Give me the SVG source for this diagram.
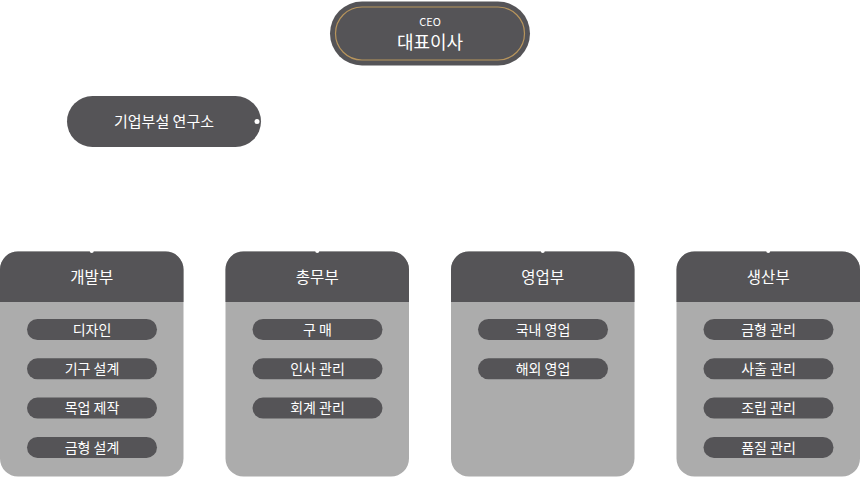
<svg xmlns="http://www.w3.org/2000/svg" width="860" height="477" viewBox="0 0 860 477">
<defs>
<style>
.dark{fill:#555457}
.light{fill:#acacac}
.t{font-family:"Noto Sans CJK KR","Noto Sans",sans-serif;fill:#ffffff;text-anchor:middle}
.h{font-size:15.5px}
.i{font-size:14px}
.dot{fill:#ffffff}
</style>
<path id="cardbody" d="M0,269.5 a18,18 0 0 1 18,-18 h147.5 a18,18 0 0 1 18,18 v189 a18,18 0 0 1 -18,18 h-147.5 a18,18 0 0 1 -18,-18 z"/>
<path id="cardhead" d="M0,269.5 a18,18 0 0 1 18,-18 h147.5 a18,18 0 0 1 18,18 v32.5 h-183.5 z"/>
</defs>
<rect width="860" height="477" fill="#ffffff"/>
<g id="connectors">
</g>
<g id="ceo">
<rect x="330" y="1.5" width="200" height="64" rx="32" class="dark"/>
<rect x="335.5" y="7" width="189" height="53" rx="26.5" fill="none" stroke="#b8955c" stroke-width="1.2"/>
<text x="430" y="26" class="t" font-size="11px">CEO</text>
<text x="430" y="48.5" class="t" font-size="18px">대표이사</text>
</g>
<g id="lab">
<rect x="67" y="96" width="194" height="51" rx="25.5" class="dark"/>
<text x="164" y="127" class="t" font-size="15px">기업부설 연구소</text>
<circle cx="257" cy="121.5" r="2.5" class="dot"/>
</g>
<g id="dept1">
<use href="#cardbody" class="light"/>
<use href="#cardhead" class="dark"/>
<circle cx="91.75" cy="251" r="2" class="dot"/>
<text x="91.75" y="283" class="t h">개발부</text>
<rect x="27" y="319" width="130" height="21" rx="10.5" class="dark"/>
<text x="92" y="334.8" class="t i">디자인</text>
<rect x="27" y="358.3" width="130" height="21" rx="10.5" class="dark"/>
<text x="92" y="374.1" class="t i">기구 설계</text>
<rect x="27" y="397.6" width="130" height="21" rx="10.5" class="dark"/>
<text x="92" y="413.4" class="t i">목업 제작</text>
<rect x="27" y="436.9" width="130" height="21" rx="10.5" class="dark"/>
<text x="92" y="452.7" class="t i">금형 설계</text>
</g>
<g id="dept2" transform="translate(225.5,0)">
<use href="#cardbody" class="light"/>
<use href="#cardhead" class="dark"/>
<circle cx="91.75" cy="251" r="2" class="dot"/>
<text x="91.75" y="283" class="t h">총무부</text>
<rect x="27" y="319" width="130" height="21" rx="10.5" class="dark"/>
<text x="92" y="334.8" class="t i">구 매</text>
<rect x="27" y="358.3" width="130" height="21" rx="10.5" class="dark"/>
<text x="92" y="374.1" class="t i">인사 관리</text>
<rect x="27" y="397.6" width="130" height="21" rx="10.5" class="dark"/>
<text x="92" y="413.4" class="t i">회계 관리</text>
</g>
<g id="dept3" transform="translate(451,0)">
<use href="#cardbody" class="light"/>
<use href="#cardhead" class="dark"/>
<circle cx="91.75" cy="251" r="2" class="dot"/>
<text x="91.75" y="283" class="t h">영업부</text>
<rect x="27" y="319" width="130" height="21" rx="10.5" class="dark"/>
<text x="92" y="334.8" class="t i">국내 영업</text>
<rect x="27" y="358.3" width="130" height="21" rx="10.5" class="dark"/>
<text x="92" y="374.1" class="t i">해외 영업</text>
</g>
<g id="dept4" transform="translate(676.5,0)">
<use href="#cardbody" class="light"/>
<use href="#cardhead" class="dark"/>
<circle cx="91.75" cy="251" r="2" class="dot"/>
<text x="91.75" y="283" class="t h">생산부</text>
<rect x="27" y="319" width="130" height="21" rx="10.5" class="dark"/>
<text x="92" y="334.8" class="t i">금형 관리</text>
<rect x="27" y="358.3" width="130" height="21" rx="10.5" class="dark"/>
<text x="92" y="374.1" class="t i">사출 관리</text>
<rect x="27" y="397.6" width="130" height="21" rx="10.5" class="dark"/>
<text x="92" y="413.4" class="t i">조립 관리</text>
<rect x="27" y="436.9" width="130" height="21" rx="10.5" class="dark"/>
<text x="92" y="452.7" class="t i">품질 관리</text>
</g>
</svg>
